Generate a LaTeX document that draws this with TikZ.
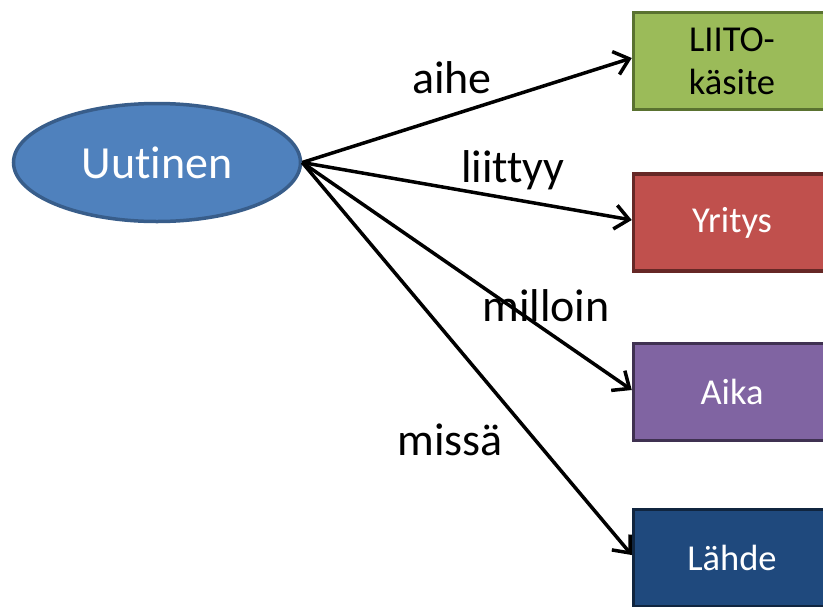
\documentclass[tikz,border=0pt]{standalone}
\usepackage{fontspec}
\setmainfont{Carlito}[Ligatures=NoCommon]
\usetikzlibrary{arrows.meta,shapes.geometric}
\definecolor{uutfill}{HTML}{4F81BD}
\definecolor{uutline}{HTML}{385D8A}
\definecolor{liitofill}{HTML}{9BBB59}
\definecolor{liitoline}{HTML}{5A7230}
\definecolor{yritfill}{HTML}{C0504D}
\definecolor{yritline}{HTML}{662826}
\definecolor{aikafill}{HTML}{8064A2}
\definecolor{aikaline}{HTML}{3F3151}
\definecolor{lahdefill}{HTML}{1F497D}
\definecolor{lahdeline}{HTML}{10253F}
\begin{document}
\begin{tikzpicture}[x=1pt,y=-1pt,>={Straight Barb[length=14pt,width=24pt]},
    concept/.style={draw,line width=3.5pt,minimum width=197pt,minimum height=97pt,
      inner sep=0pt,align=center,font=\fontsize{36.5}{43}\selectfont},
    rel/.style={anchor=base,font=\fontsize{46}{46}\selectfont}]
          \useasboundingbox (0, 0) rectangle (823, 606);
          \node[ellipse,draw=uutline,fill=uutfill,line width=3.5pt,inner sep=0pt,
            minimum width=287pt,minimum height=118pt,text=white,
            font=\fontsize{46}{46}\selectfont] (uutinen) at (157, 162.5) {Uutinen};
          \node[concept,draw=liitoline,fill=liitofill] (liito) at (732, 61) {LIITO-\\käsite};
          \node[concept,draw=yritline,fill=yritfill,text=white] (yritys) at (732, 222.5) {Yritys};
          \node[concept,draw=aikaline,fill=aikafill,text=white] (aika) at (732, 392) {Aika};
          \node[concept,draw=lahdeline,fill=lahdefill,text=white] (lahde) at (732, 558) {Lähde};
          \draw[line width=3.5pt,->] (uutinen.east) -- ([yshift=3pt]liito.west);
          \draw[line width=3.5pt,->] (uutinen.east) -- ([yshift=2.5pt]yritys.west);
          \draw[line width=3.5pt,->] (uutinen.east) -- ([yshift=2pt]aika.west);
          \draw[line width=3.5pt,->] (uutinen.east) -- ([yshift=3pt]lahde.west);
          \node[rel] (aihe) at (452, 93) {aihe};
          \node[rel] (liittyy) at (513, 182) {liittyy};
          \node[rel] (milloin) at (546, 321) {milloin};
          \node[rel] (missa) at (450, 455) {missä};
        \end{tikzpicture}
\end{document}
